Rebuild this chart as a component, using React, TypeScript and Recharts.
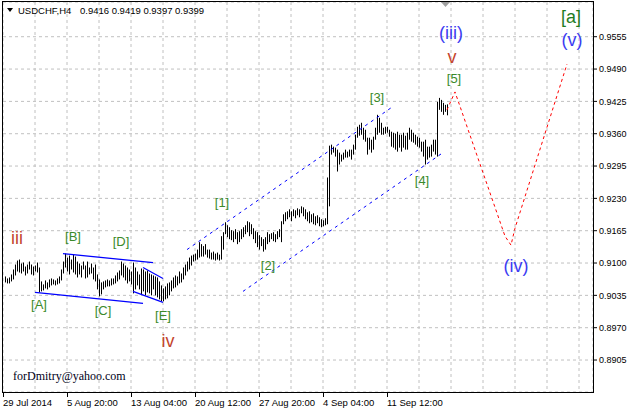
import React from 'react';
import {
  ComposedChart,
  Bar,
  Line,
  XAxis,
  YAxis,
  CartesianGrid,
  ReferenceLine,
  ReferenceDot,
} from 'recharts';

if (typeof document !== 'undefined') {
  document.body.style.margin = '0';
}

// ---------- DATA ----------
const symbol = 'USDCHF,H4';
const lastOHLC = ['0.9416', '0.9419', '0.9397', '0.9399'];
const firstBar = 1;

const highs = [
  0.9073, 0.9069, 0.9071, 0.9077, 0.9087, 0.9097, 0.9105, 0.9107, 0.9099, 0.9101,
  0.9093, 0.9097, 0.9103, 0.9097, 0.9093, 0.9095, 0.9101, 0.9091, 0.9063, 0.9057,
  0.9065, 0.9061, 0.9067, 0.9069, 0.9067, 0.9065, 0.9069, 0.9073, 0.9087, 0.9103,
  0.9119, 0.9111, 0.9115, 0.9107, 0.9117, 0.9113, 0.9103, 0.9099, 0.9095, 0.9103,
  0.9095, 0.9103, 0.9091, 0.9099, 0.9091, 0.9097, 0.9077, 0.9067, 0.9061, 0.9063,
  0.9065, 0.9067, 0.9065, 0.9069, 0.9069, 0.9075, 0.9081, 0.9085, 0.9103, 0.9099,
  0.9095, 0.9091, 0.9087, 0.9083, 0.9101, 0.9091, 0.9083, 0.9077, 0.9089, 0.9087,
  0.9083, 0.9085, 0.9079, 0.9077, 0.9075, 0.9073, 0.9071, 0.9063, 0.9055, 0.9049,
  0.9053, 0.9059, 0.9061, 0.9065, 0.9071, 0.9075, 0.9073, 0.9083, 0.9079, 0.9091,
  0.9097, 0.9103, 0.9111, 0.9115, 0.9117, 0.9119, 0.9127, 0.9142, 0.9138, 0.9134,
  0.9138, 0.9127, 0.9127, 0.9121, 0.9123, 0.9119, 0.9121, 0.9117, 0.9154, 0.9162,
  0.9182, 0.9176, 0.9172, 0.9166, 0.9164, 0.9168, 0.9162, 0.9164, 0.9168, 0.9172,
  0.9176, 0.9184, 0.9182, 0.9178, 0.9170, 0.9164, 0.9162, 0.9156, 0.9152, 0.9148,
  0.9152, 0.9162, 0.9158, 0.9160, 0.9162, 0.9158, 0.9164, 0.9168, 0.9184, 0.9198,
  0.9202, 0.9204, 0.9208, 0.9204, 0.9208, 0.9206, 0.9210, 0.9208, 0.9214, 0.9212,
  0.9208, 0.9202, 0.9204, 0.9198, 0.9200, 0.9194, 0.9196, 0.9192, 0.9188, 0.9186,
  0.9190, 0.9272, 0.9336, 0.9338, 0.9334, 0.9332, 0.9328, 0.9322, 0.9318, 0.9322,
  0.9328, 0.9324, 0.9328, 0.9328, 0.9338, 0.9358, 0.9374, 0.9378, 0.9382, 0.9372,
  0.9368, 0.9352, 0.9352, 0.9348, 0.9354, 0.9372, 0.9398, 0.9392, 0.9382, 0.9372,
  0.9374, 0.9374, 0.9368, 0.9364, 0.9362, 0.9360, 0.9364, 0.9358, 0.9358, 0.9362,
  0.9356, 0.9362, 0.9372, 0.9368, 0.9362, 0.9358, 0.9354, 0.9352, 0.9344, 0.9344,
  0.9348, 0.9334, 0.9334, 0.9338, 0.9348, 0.9348, 0.9424, 0.9432, 0.9428, 0.9422,
  0.9418, 0.9419,
];

const lows = [
  0.9061, 0.9059, 0.9059, 0.9063, 0.9067, 0.9075, 0.9083, 0.9081, 0.9079, 0.9083,
  0.9075, 0.9079, 0.9087, 0.9077, 0.9075, 0.9083, 0.9081, 0.9041, 0.9043, 0.9045,
  0.9049, 0.9047, 0.9051, 0.9055, 0.9057, 0.9055, 0.9057, 0.9059, 0.9065, 0.9079,
  0.9091, 0.9083, 0.9077, 0.9087, 0.9081, 0.9077, 0.9071, 0.9077, 0.9071, 0.9087,
  0.9069, 0.9071, 0.9077, 0.9079, 0.9067, 0.9063, 0.9047, 0.9033, 0.9037, 0.9047,
  0.9051, 0.9053, 0.9053, 0.9055, 0.9057, 0.9059, 0.9063, 0.9067, 0.9075, 0.9071,
  0.9065, 0.9059, 0.9063, 0.9057, 0.9039, 0.9047, 0.9055, 0.9047, 0.9037, 0.9043,
  0.9035, 0.9041, 0.9039, 0.9035, 0.9047, 0.9035, 0.9031, 0.9027, 0.9023, 0.9023,
  0.9027, 0.9029, 0.9035, 0.9043, 0.9049, 0.9051, 0.9055, 0.9059, 0.9061, 0.9067,
  0.9075, 0.9083, 0.9087, 0.9095, 0.9103, 0.9105, 0.9107, 0.9111, 0.9113, 0.9113,
  0.9117, 0.9111, 0.9109, 0.9107, 0.9107, 0.9105, 0.9107, 0.9105, 0.9107, 0.9127,
  0.9158, 0.9152, 0.9148, 0.9146, 0.9142, 0.9148, 0.9138, 0.9142, 0.9148, 0.9152,
  0.9158, 0.9162, 0.9154, 0.9158, 0.9148, 0.9140, 0.9132, 0.9127, 0.9134, 0.9123,
  0.9127, 0.9138, 0.9142, 0.9148, 0.9144, 0.9142, 0.9148, 0.9152, 0.9142, 0.9178,
  0.9184, 0.9188, 0.9192, 0.9184, 0.9194, 0.9190, 0.9196, 0.9192, 0.9200, 0.9194,
  0.9188, 0.9184, 0.9180, 0.9182, 0.9178, 0.9176, 0.9180, 0.9174, 0.9172, 0.9174,
  0.9176, 0.9178, 0.9214, 0.9318, 0.9322, 0.9314, 0.9284, 0.9298, 0.9304, 0.9308,
  0.9312, 0.9312, 0.9314, 0.9308, 0.9318, 0.9328, 0.9352, 0.9356, 0.9358, 0.9348,
  0.9344, 0.9318, 0.9328, 0.9322, 0.9328, 0.9348, 0.9358, 0.9362, 0.9358, 0.9358,
  0.9360, 0.9362, 0.9354, 0.9334, 0.9332, 0.9328, 0.9324, 0.9332, 0.9324, 0.9332,
  0.9328, 0.9328, 0.9348, 0.9344, 0.9342, 0.9338, 0.9334, 0.9332, 0.9324, 0.9314,
  0.9298, 0.9308, 0.9312, 0.9314, 0.9324, 0.9318, 0.9314, 0.9408, 0.9404, 0.9398,
  0.9404, 0.9397,
];

// forecast path (bar index, price)
const forecastIdx = [222, 226, 251, 254, 256, 282];
const forecastVal = [0.9408, 0.9444, 0.9154, 0.9136, 0.917, 0.95];

// x axis: bar slots, grid every 16 bars, labels every 32 bars
const xDomain = [0, 295];
const gridIdx = [0, 16, 32, 48, 64, 80, 96, 112, 128, 144, 160, 176, 192, 208, 224, 240, 256, 272, 288];
const xLabelIdx = [0, 32, 64, 96, 128, 160, 192];
const xLabels = ['29 Jul 2014', '5 Aug 20:00', '13 Aug 04:00', '20 Aug 12:00', '27 Aug 20:00', '4 Sep 04:00', '11 Sep 12:00'];

const yDomain = [0.88407, 0.96248];
const yTicks = [0.8905, 0.897, 0.9035, 0.91, 0.9165, 0.923, 0.9295, 0.936, 0.9425, 0.949, 0.9555];

// trend lines: [i1, v1, i2, v2]
const solidLines = [
  [30, 0.9119, 75, 0.9101],
  [16, 0.9041, 70, 0.9019],
  [70, 0.9091, 80, 0.9069],
  [65, 0.9043, 80, 0.9021],
];
const channelLines = [
  [92, 0.9127, 194, 0.9412],
  [120, 0.9043, 220, 0.9322],
];

// wave labels
const waveText = ['iii', '[A]', '[B]', '[C]', '[D]', '[E]', 'iv', '[1]', '[2]', '[3]', '[4]', '[5]', 'v', '(iii)', '(iv)', '(v)', '[a]'];
const waveIdx = [7, 18, 35, 50, 59, 80, 82.5, 109.5, 132.5, 187, 209.5, 225.5, 224.5, 224, 256.5, 284.5, 284];
const waveVal = [0.915, 0.9017, 0.9154, 0.9005, 0.9144, 0.8995, 0.8943, 0.9221, 0.9095, 0.9432, 0.9266, 0.9472, 0.9514, 0.9562, 0.9095, 0.9548, 0.9595];
const waveKind = ['r', 'g', 'g', 'g', 'g', 'g', 'r', 'g', 'g', 'g', 'g', 'g', 'r', 'b', 'b', 'b', 'G'];

const signature = 'forDmitry@yahoo.com';

// ---------- BUILD ----------
const lastBar = firstBar + highs.length - 1;
const fMap: Record<number, number> = {};
forecastIdx.forEach((k, n) => (fMap[k] = forecastVal[n]));
const table: any[] = [];
for (let i = firstBar; i <= forecastIdx[forecastIdx.length - 1]; i++) {
  const row: any = { i };
  if (i <= lastBar) row.hl = [lows[i - firstBar], highs[i - firstBar]];
  if (fMap[i] !== undefined) row.f = fMap[i];
  table.push(row);
}
const xLabelMap: Record<number, string> = {};
xLabelIdx.forEach((k, n) => (xLabelMap[k] = xLabels[n]));

const kindStyle: Record<string, { fill: string; size: number }> = {
  r: { fill: '#c4452e', size: 18 },
  g: { fill: '#3b8a2a', size: 13 },
  b: { fill: '#3c3cf2', size: 18 },
  G: { fill: '#1f7d1f', size: 18 },
};

const FONT = '"Liberation Sans", Arial, sans-serif';

const HLBar = (props: any) => {
  const { x, y, width, height } = props;
  if (x == null || y == null || height == null) return null;
  const cx = Math.round(x + width / 2);
  const top = Math.min(y, y + height);
  const h = Math.max(1, Math.abs(height));
  return <rect x={cx} y={top} width={1} height={h} fill="#000" />;
};

const XTick = (props: any) => {
  const { x, y, payload } = props;
  const label = xLabelMap[payload.value];
  if (!label) return null;
  const px = Math.round(x) + 0.5;
  return (
    <g>
      <line x1={px} x2={px} y1={y} y2={y + 5} stroke="#000" />
      <text x={x} y={y + 14} fontSize={9.5} fontFamily={FONT} fill="#000" textAnchor="start">
        {label}
      </text>
    </g>
  );
};

export default function App() {
  return (
    <div style={{ position: 'absolute', left: 0, top: 0, width: 629, height: 409, background: '#fff' }}>
      <ComposedChart
        width={629}
        height={409}
        data={table}
        margin={{ top: 2, right: 0, bottom: 0, left: 3 }}
      >
        <CartesianGrid stroke="#c0c0c0" strokeDasharray="3 3" />
        <XAxis
          type="number"
          dataKey="i"
          domain={xDomain}
          ticks={gridIdx}
          interval={0}
          allowDataOverflow
          height={17}
          tickSize={0}
          tickMargin={0}
          axisLine={false}
          tickLine={false}
          tick={<XTick />}
        />
        <YAxis
          orientation="right"
          type="number"
          domain={yDomain}
          ticks={yTicks}
          interval={0}
          allowDataOverflow
          width={36}
          tickSize={4}
          tickMargin={2}
          axisLine={false}
          tickLine={{ stroke: '#000' }}
          tick={{ fontSize: 9, fill: '#000', fontFamily: FONT }}
          tickFormatter={(v: number) => v.toFixed(4)}
        />
        {solidLines.map((s, k) => (
          <ReferenceLine
            key={'s' + k}
            segment={[{ x: s[0], y: s[1] }, { x: s[2], y: s[3] }]}
            stroke="#0000ff"
            strokeWidth={1.2}
            ifOverflow="visible"
          />
        ))}
        {channelLines.map((s, k) => (
          <ReferenceLine
            key={'c' + k}
            segment={[{ x: s[0], y: s[1] }, { x: s[2], y: s[3] }]}
            stroke="#0000ff"
            strokeDasharray="3 4"
            ifOverflow="visible"
          />
        ))}
        <Bar dataKey="hl" barSize={1} shape={<HLBar />} isAnimationActive={false} />
        <Line
          dataKey="f"
          stroke="#ff0000"
          strokeDasharray="3 3"
          strokeWidth={1}
          dot={false}
          connectNulls
          isAnimationActive={false}
        />
        {waveText.map((t, k) => {
          const st = kindStyle[waveKind[k]];
          return (
            <ReferenceDot
              key={'w' + k}
              x={waveIdx[k]}
              y={waveVal[k]}
              r={0}
              ifOverflow="visible"
              shape={(p: any) => (
                <text
                  x={p.cx}
                  y={p.cy}
                  fill={st.fill}
                  fontSize={st.size}
                  fontFamily={FONT}
                  textAnchor="middle"
                  dominantBaseline="central"
                >
                  {t}
                </text>
              )}
            />
          );
        })}
      </ComposedChart>
      <svg
        width={629}
        height={409}
        style={{ position: 'absolute', left: 0, top: 0, pointerEvents: 'none' }}
      >
        <rect x={2.5} y={1.5} width={591} height={391} fill="none" stroke="#000" />
        <polygon points="7,8 13,8 10,12" fill="#000" />
        <text x={18} y={14} fontSize={9.5} fontFamily={FONT} fill="#000">
          {symbol}
        </text>
        <text x={80} y={14} fontSize={9.5} fontFamily={FONT} fill="#000">
          {lastOHLC.join(' ')}
        </text>
        <polygon points="441,2 450,2 445.5,7" fill="#a0a0a0" />
        <text x={13} y={380} fontSize={12} fontFamily='"Liberation Serif", "Times New Roman", serif' fill="#000018">
          {signature}
        </text>
      </svg>
    </div>
  );
}
